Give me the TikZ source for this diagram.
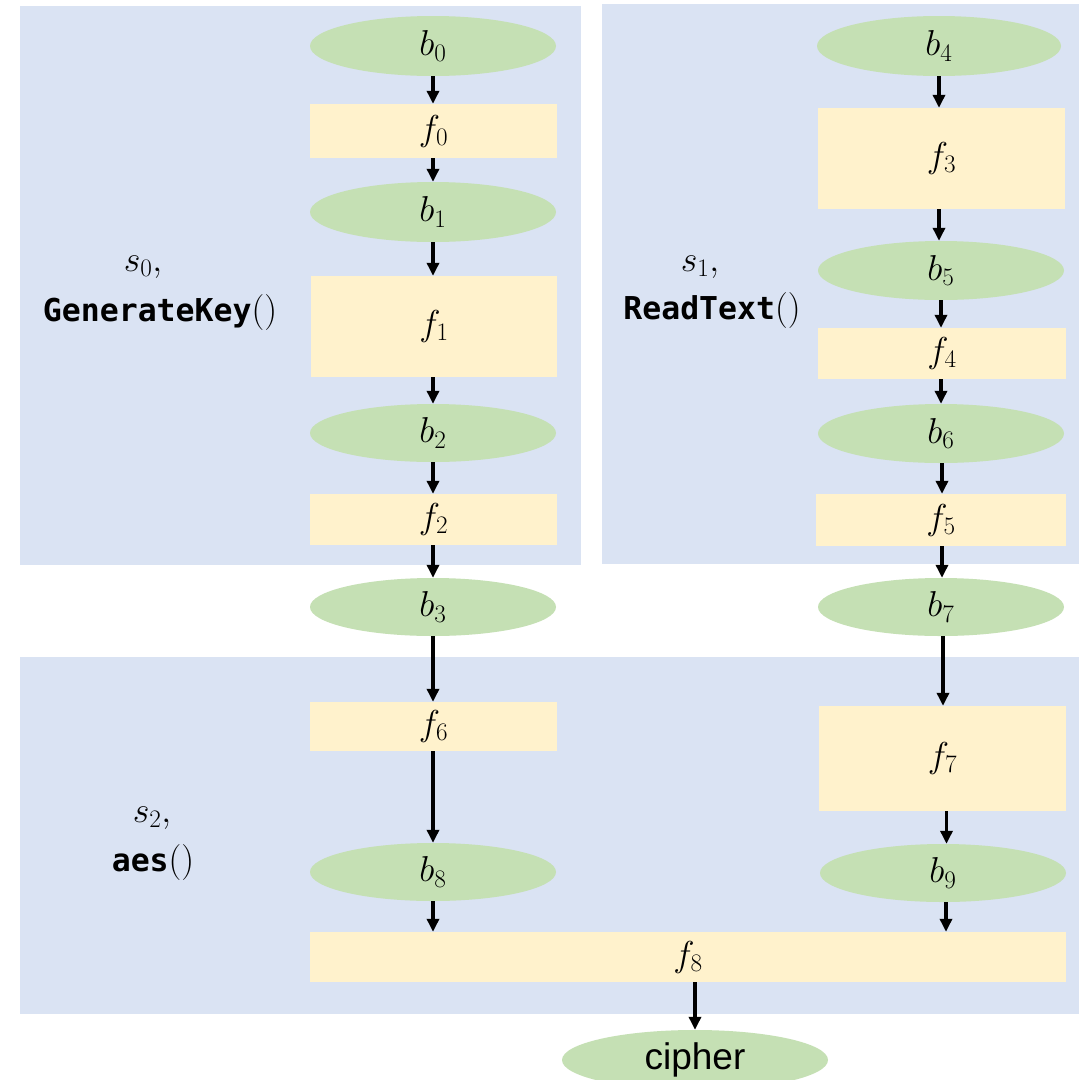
\RequirePackage{fix-cm}
\documentclass[tikz,border=0pt]{standalone}
\usepackage{fontspec}
\setsansfont{Liberation Sans}
\newfontfamily\monob{DejaVu Sans Mono}
\usetikzlibrary{shapes.geometric,arrows.meta}
\definecolor{panelc}{HTML}{DAE3F3}
\definecolor{greenc}{HTML}{C5E0B4}
\definecolor{yellowc}{HTML}{FFF2CC}
\tikzset{
  ell/.style={ellipse, fill=greenc, minimum width=246, minimum height=60, inner sep=0pt, font=\fontsize{36}{42}\selectfont},
  boxn/.style={rectangle, fill=yellowc, inner sep=0pt, font=\fontsize{36}{42}\selectfont},
  arr/.style={line width=3.6pt, -{Triangle[length=13pt,width=12pt]}},
  lab/.style={inner sep=0pt, font=\fontsize{36}{42}\selectfont},
}
\begin{document}
\begin{tikzpicture}[x=1pt,y=-1pt]
\useasboundingbox (0,0) rectangle (1079,1080);
\fill[white] (0,0) rectangle (1079,1080);
% panels
\fill[panelc] (20,6) rectangle (581,565);
\fill[panelc] (602,4) rectangle (1079,564);
\fill[panelc] (20,657) rectangle (1079,1014);
% left column
\node[ell] (b0) at (433,46) {$b_0$};
\node[boxn, minimum width=247, minimum height=54] (f0) at (433.5,131) {$f_0$};
\node[ell] (b1) at (433,212) {$b_1$};
\node[boxn, minimum width=246, minimum height=101] (f1) at (434,326.5) {$f_1$};
\node[ell, minimum height=58] (b2) at (433,433) {$b_2$};
\node[boxn, minimum width=247, minimum height=51] (f2) at (433.5,519.5) {$f_2$};
\node[ell, minimum height=58] (b3) at (433,607) {$b_3$};
\node[boxn, minimum width=247, minimum height=49] (f6) at (433.5,726.5) {$f_6$};
\node[ell, minimum height=58] (b8) at (433,872) {$b_8$};
% right column
\node[ell, minimum width=244] (b4) at (939,46) {$b_4$};
\node[boxn, minimum width=247, minimum height=101] (f3) at (941.5,158.5) {$f_3$};
\node[ell, minimum height=59] (b5) at (941,270.5) {$b_5$};
\node[boxn, minimum width=248, minimum height=51] (f4) at (942,353.5) {$f_4$};
\node[ell, minimum height=59] (b6) at (941,433.5) {$b_6$};
\node[boxn, minimum width=250, minimum height=52] (f5) at (941,520) {$f_5$};
\node[ell, minimum height=58] (b7) at (941,607) {$b_7$};
\node[boxn, minimum width=247, minimum height=105] (f7) at (942.5,758.5) {$f_7$};
\node[ell, minimum height=58] (b9) at (943,873) {$b_9$};
% bottom
\node[boxn, minimum width=756, minimum height=50] (f8) at (688,957) {$f_8$};
\node[ell, minimum width=266, minimum height=60, font=\sffamily\fontsize{37}{42}\selectfont] (cipher) at (695,1060) {cipher};
% labels
\node[lab] (s0) at (143,267) {$s_0,$};
\node[lab] (g0) at (160,312) {{\monob\bfseries\fontsize{31.5}{36}\selectfont GenerateKey}$()$};
\node[lab] (s1) at (700,267) {$s_1,$};
\node[lab] (g1) at (712,310) {{\monob\bfseries\fontsize{31.5}{36}\selectfont ReadText}$()$};
\node[lab] (s2) at (152,818) {$s_2,$};
\node[lab] (g2) at (153,862) {{\monob\bfseries\fontsize{31.5}{36}\selectfont aes}$()$};
% arrows
\draw[arr] (b0.south) -- (b0.south |- f0.north);
\draw[arr] (f0.south -| b0.south) -- (b1.north);
\draw[arr] (b1.south) -- (b1.south |- f1.north);
\draw[arr] (f1.south -| b1.south) -- (b2.north);
\draw[arr] (b2.south) -- (b2.south |- f2.north);
\draw[arr] (f2.south -| b2.south) -- (b3.north);
\draw[arr] (b3.south) -- (b3.south |- f6.north);
\draw[arr] (f6.south -| b3.south) -- (b8.north);
\draw[arr] (b8.south) -- (b8.south |- f8.north);
\draw[arr] (b4.south) -- (b4.south |- f3.north);
\draw[arr] (f3.south -| b4.south) -- (b5.north -| b4.south);
\draw[arr] (b5.south) -- (b5.south |- f4.north);
\draw[arr] (f4.south -| b5.south) -- (b6.north);
\draw[arr] (b6.south) ++(1,0) coordinate (c6) -- (c6 |- f5.north);
\draw[arr] (f5.south -| c6) -- (b7.north -| c6);
\draw[arr] (b7.south) ++(2,0) coordinate (c7) -- (c7 |- f7.north);
\draw[arr] (f7.south) ++(4,0) coordinate (c9) -- (c9 |- b9.north);
\draw[arr] (b9.south) ++(3,0) coordinate (c10) -- (c10 |- f8.north);
\draw[arr] (cipher.north |- f8.south) -- (cipher.north);
\end{tikzpicture}
\end{document}
